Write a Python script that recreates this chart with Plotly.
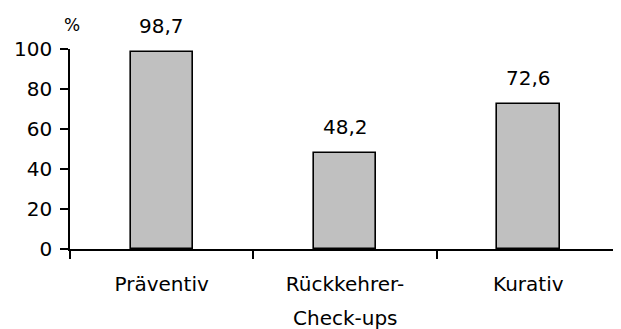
import plotly.graph_objects as go

categories = ["Präventiv", "Rückkehrer-", "Kurativ"]
category_second_lines = ["", "Check-ups", ""]
values = [98.7, 48.2, 72.6]
value_labels = ["98,7", "48,2", "72,6"]
y_ticks = [0, 20, 40, 60, 80, 100]

FONT = "DejaVu Sans"

fig = go.Figure()
fig.add_trace(go.Bar(
    x=categories, y=values, width=0.34,
    marker=dict(color="#c0c0c0", line=dict(color="black", width=1.6)),
    hoverinfo="skip",
))
for c, v, t in zip(categories, values, value_labels):
    fig.add_annotation(x=c, y=v, text=t, showarrow=False, yanchor="bottom",
                       yshift=12, font=dict(family=FONT, size=20, color="black"))
for c, t in zip(categories, category_second_lines):
    if t:
        fig.add_annotation(x=c, y=0, yref="paper", text=t, showarrow=False,
                           yanchor="top", yshift=-55,
                           font=dict(family=FONT, size=20, color="black"))
fig.add_annotation(xref="paper", yref="paper", x=0.0, y=1.0, text="%",
                   showarrow=False, xanchor="center", yanchor="bottom",
                   xshift=2, yshift=12,
                   font=dict(family=FONT, size=17, color="black"))

fig.update_layout(
    width=621, height=329,
    margin=dict(l=62, r=9, t=41, b=88),
    paper_bgcolor="white", plot_bgcolor="white",
    showlegend=False,
    font=dict(family=FONT, size=20, color="black"),
    bargap=0,
)
fig.update_xaxes(
    type="category", tickson="boundaries", ticks="outside", ticklen=8,
    tickwidth=1.5, tickcolor="black", showline=True, linecolor="black",
    linewidth=1.5, showgrid=False, ticklabelstandoff=16,
    range=[-0.5, 2.5], automargin=False,
)
fig.update_yaxes(
    range=[0, 100], tickvals=y_ticks, ticks="outside", ticklen=8,
    tickwidth=1.5, tickcolor="black", showline=True, linecolor="black",
    linewidth=1.5, showgrid=False, zeroline=False, ticklabelstandoff=4,
    automargin=False,
)

fig.write_html("out.html")
